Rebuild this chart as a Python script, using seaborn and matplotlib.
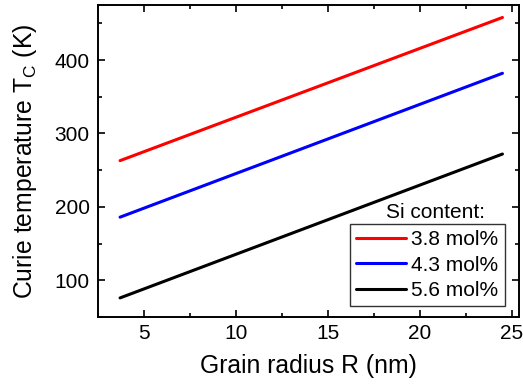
import matplotlib
matplotlib.use("Agg")
import matplotlib.pyplot as plt
from matplotlib.ticker import MultipleLocator
import seaborn as sns
import pandas as pd

# Grain radius endpoints (nm) and Curie temperatures (K) for each Si content
radius = [3.7, 24.5]
tc_38 = [263, 458]
tc_43 = [186, 382]
tc_56 = [76, 272]
series_labels = ["3.8 mol%", "4.3 mol%", "5.6 mol%"]
series_colors = ["#ff0000", "#0000ff", "#000000"]

df = pd.concat([
    pd.DataFrame({"R": radius, "Tc": vals, "Si": lab})
    for vals, lab in zip([tc_38, tc_43, tc_56], series_labels)
])

sns.set_theme(style="ticks")
plt.rcParams["font.family"] = ["Liberation Sans", "DejaVu Sans"]
plt.rcParams["mathtext.fontset"] = "custom"
plt.rcParams["mathtext.rm"] = "Liberation Sans"
plt.rcParams["mathtext.it"] = "Liberation Sans"
plt.rcParams["text.color"] = "black"
plt.rcParams["axes.labelcolor"] = "black"

fig = plt.figure(figsize=(5.23, 3.85), dpi=100)
ax = fig.add_axes([98 / 523, 1 - 317 / 385, 421 / 523, 312 / 385])

sns.lineplot(data=df, x="R", y="Tc", hue="Si", palette=series_colors,
             linewidth=2.2, ax=ax, legend=True)

ax.set_xlim(2.5, 25.4)
ax.set_ylim(50, 475)
ax.xaxis.set_major_locator(MultipleLocator(5))
ax.xaxis.set_minor_locator(MultipleLocator(2.5))
ax.yaxis.set_major_locator(MultipleLocator(100))
ax.yaxis.set_minor_locator(MultipleLocator(50))
ax.tick_params(which="both", direction="in", top=True, right=True,
               labelsize=15, width=1.2, colors="black")
ax.tick_params(which="major", length=5)
ax.tick_params(which="minor", length=3)
ax.tick_params(axis="x", which="major", pad=5)
ax.tick_params(axis="y", which="major", pad=6)
for s in ax.spines.values():
    s.set_linewidth(1.4)
    s.set_color("black")

ax.set_xlabel("Grain radius R (nm)", fontsize=17.8, labelpad=8)
ax.set_ylabel(r"Curie temperature T$_\mathrm{C}$ (K)", fontsize=17.8, labelpad=11)

leg = ax.legend(loc="lower right", bbox_to_anchor=(0.966, 0.035), fontsize=15,
                frameon=True, fancybox=False, edgecolor="black",
                handlelength=2.4, handletextpad=0.25, borderpad=0.3,
                labelspacing=0.3, borderaxespad=0)
leg.get_frame().set_linewidth(1.0)
for h in leg.legend_handles:
    h.set_linewidth(2.2)
fig.text(436 / 523, 1 - 213 / 385, "Si content:", fontsize=15,
         ha="center", va="center")

fig.savefig("out.png", dpi=100)
